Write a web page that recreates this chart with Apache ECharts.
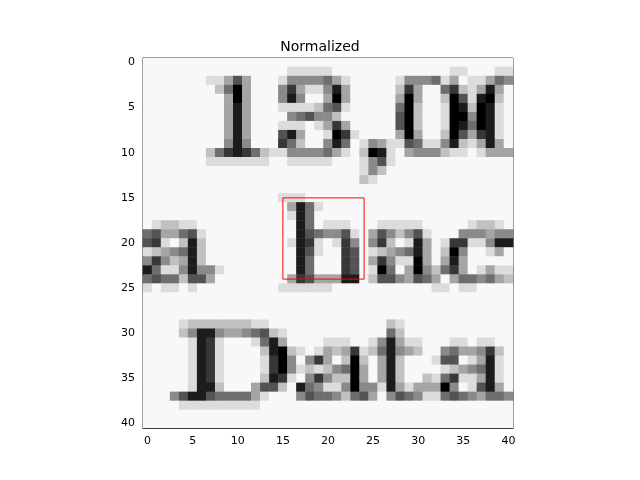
<!DOCTYPE html>
<html>
<head>
<meta charset="utf-8">
<script src="https://cdn.jsdelivr.net/npm/echarts@6/dist/echarts.min.js"></script>
<style>html,body{margin:0;padding:0;background:#fff;}</style>
</head>
<body>
<div id="main" style="width:640px;height:480px;"></div>
<script type="text/javascript">
// 像素灰度 0=黑 9=白, 每行41个
var pixelRows = [
	"99999999999999999999999999999999999999999",
	"99999999999999998888899999999999998899988",
	"99999998863699985555468999998555486988645",
	"99999999740699952688516999997269942786169",
	"99999999960699951599606999996069970381079",
	"99999999961699988887438999994079980170189",
	"99999999961699995435579999993079980050189",
	"99999999961699988898626999993079980140189",
	"99999999961699931699802899996069970362189",
	"99999999951599924799514985688348851786169",
	"99999997421247885555468970189655578898666",
	"99999998888888998888899985389999999999999",
	"99999999999999999999999985799999999999999",
	"99999999999999999999999978999999999999999",
	"99999999999999999999999999999999999999999",
	"99999999999999988899999999999999999999999",
	"99999999999999996148999999999999999999999",
	"99999999999999998149999999999999999999999",
	"98778899999999999149888999888889999987789",
	"43664389999999999134553896357538999555655",
	"32897179999999998128982595279816982288511",
	"87654179999999999138992398765416970599869",
	"52576179999999999149992396258806961699999",
	"14885155899999999149992398049605742698688",
	"43447336999999996236661197335634696445467",
	"89889899999999988888899999999999889889999",
	"99999999999999999999999999999999999999999",
	"99999999999999999999999999999999999999999",
	"99999999999999999999999999999999999999999",
	"99998777777788999999999999978999999999999",
	"99997511566543789999999999947999999999999",
	"99999812899984169999888998516889998898899",
	"99999812899997107898676287415679954665279",
	"99999812899998205952697079617999833986189",
	"99999812899998205878754069617999987654189",
	"99999812899997128952577069617997842886189",
	"99999811799963379145885055816866605983169",
	"99953113444468999534457436953458843456445",
	"99998888888889999999999999999999999999999",
	"99999999999999999999999999999999999999999",
	"99999999999999999999999999999999999999999"
];
var tickLabels = ["0", "5", "10", "15", "20", "25", "30", "35", "40"];
var boxCorners = [[15, 15], [24, 15], [24, 24], [15, 24], [15, 15]];

var categories = [];
for (var i = 0; i < 41; i++) categories.push(String(i));

var heatData = [];
pixelRows.forEach(function(row, y) {
	for (var x = 0; x < row.length; x++) {
		heatData.push([x, y, Number(row[x]) / 9]);
	}
});

function isTick(i) { return tickLabels.indexOf(String(i)) >= 0; }

var chart = echarts.init(document.getElementById('main'));
chart.setOption({
	animation: false,
	title: {
		text: "Normalized", left: 'center', top: 35,
		textStyle: { fontFamily: "DejaVu Sans", fontSize: 14, fontWeight: 'normal', color: '#000' }
	},
	grid: { left: 143, top: 58, width: 370, height: 370, show: true, borderColor: '#000', borderWidth: 1, backgroundColor: 'transparent' },
	xAxis: {
		type: 'category', data: categories, position: 'bottom',
		axisLine: { lineStyle: { color: '#000' } },
		axisTick: { alignWithLabel: true, interval: isTick, length: 4, lineStyle: { color: '#000' } },
		axisLabel: { interval: isTick, color: '#000', fontFamily: "DejaVu Sans", fontSize: 11 },
		splitLine: { show: false }
	},
	yAxis: {
		type: 'category', data: categories, inverse: true,
		axisLine: { lineStyle: { color: '#000' } },
		axisTick: { alignWithLabel: true, interval: isTick, length: 4, lineStyle: { color: '#000' } },
		axisLabel: { interval: isTick, color: '#000', fontFamily: "DejaVu Sans", fontSize: 11 },
		splitLine: { show: false }
	},
	visualMap: { show: false, min: 0, max: 1, inRange: { color: ['#000000', '#f8f8f8'] } },
	series: [
		{ type: 'heatmap', data: heatData, itemStyle: { borderWidth: 0 } },
		{ type: 'line', data: boxCorners, symbol: 'none', lineStyle: { color: '#ff0000', width: 1 }, z: 5 }
	]
});
</script>
</body>
</html>
